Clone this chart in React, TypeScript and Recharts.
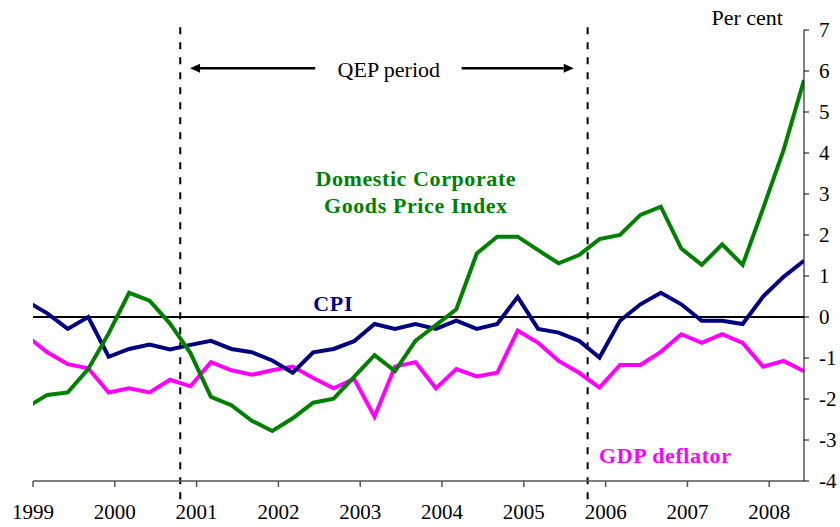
import { LineChart, Line, XAxis, YAxis, ReferenceLine, ReferenceDot } from 'recharts';

// quarterly observations (first one sits just left of the axis and is clipped)
const quarters = [
  '1998Q4',
  '1999Q1', '1999Q2', '1999Q3', '1999Q4',
  '2000Q1', '2000Q2', '2000Q3', '2000Q4',
  '2001Q1', '2001Q2', '2001Q3', '2001Q4',
  '2002Q1', '2002Q2', '2002Q3', '2002Q4',
  '2003Q1', '2003Q2', '2003Q3', '2003Q4',
  '2004Q1', '2004Q2', '2004Q3', '2004Q4',
  '2005Q1', '2005Q2', '2005Q3', '2005Q4',
  '2006Q1', '2006Q2', '2006Q3', '2006Q4',
  '2007Q1', '2007Q2', '2007Q3', '2007Q4',
  '2008Q1', '2008Q2',
];

const cpi = [
  0.38,
  0.09, -0.29, 0.0, -0.97,
  -0.78, -0.67, -0.79, -0.68,
  -0.58, -0.78, -0.86, -1.06,
  -1.36, -0.86, -0.78, -0.59,
  -0.17, -0.29, -0.17, -0.29,
  -0.09, -0.29, -0.17, 0.49,
  -0.29, -0.38, -0.58, -0.99,
  -0.09, 0.31, 0.59, 0.31,
  -0.09, -0.09, -0.17, 0.5,
  0.98, 1.37,
];

const gdpDeflator = [
  -0.47,
  -0.86, -1.15, -1.25, -1.84,
  -1.74, -1.84, -1.53, -1.69,
  -1.1, -1.3, -1.41, -1.3,
  -1.21, -1.49, -1.74, -1.51,
  -2.43, -1.21, -1.1, -1.74,
  -1.27, -1.45, -1.36, -0.33,
  -0.63, -1.07, -1.36, -1.72,
  -1.17, -1.17, -0.85, -0.42,
  -0.63, -0.42, -0.63, -1.21,
  -1.07, -1.32,
];

const cgpi = [
  -2.2,
  -1.9, -1.84, -1.27, -0.4,
  0.59, 0.4, -0.16, -0.88,
  -1.95, -2.15, -2.53, -2.78,
  -2.47, -2.09, -1.99, -1.46,
  -0.93, -1.32, -0.58, -0.2,
  0.19, 1.55, 1.96, 1.96,
  1.63, 1.31, 1.51, 1.9,
  2.0, 2.49, 2.69, 1.67,
  1.27, 1.77, 1.27, 2.65,
  4.07, 5.78,
];

const yearTicks = [1999, 2000, 2001, 2002, 2003, 2004, 2005, 2006, 2007, 2008];
const valueTicks = [-4, -3, -2, -1, 0, 1, 2, 3, 4, 5, 6, 7];

// QEP period boundaries
const qepStart = 2000.8;
const qepEnd = 2005.78;

const toTime = (q: string) => Number(q.slice(0, 4)) + (Number(q.slice(5)) - 1) * 0.25 + 0.175;

const data = quarters.map((q, i) => ({
  t: toTime(q),
  cpi: cpi[i],
  gdp: gdpDeflator[i],
  cgpi: cgpi[i],
}));

const FONT = '"Liberation Serif", "Times New Roman", serif';
const GREEN = '#008000';
const NAVY = '#000080';
const MAGENTA = '#ff00ff';

const Arrow = (props: any) => {
  const { x1, y1, x2, y2 } = props;
  const dir = x2 > x1 ? 1 : -1;
  const head = 10;
  return (
    <g>
      <line x1={x1} y1={y1} x2={x2 - dir * head} y2={y2} stroke="#000" strokeWidth={2.5} />
      <polygon
        points={`${x2},${y2} ${x2 - dir * head},${y2 - 4.5} ${x2 - dir * head},${y2 + 4.5}`}
        fill="#000"
      />
    </g>
  );
};

const label = (lines: string[], color: string, bold: boolean, anchor: string, gap = 27) =>
  (props: any) => (
    <text
      x={props.cx}
      y={props.cy}
      fill={color}
      fontFamily={FONT}
      fontSize={22}
      fontWeight={bold ? 'bold' : 'normal'}
      letterSpacing={bold ? 0.6 : 0}
      textAnchor={anchor}
    >
      {lines.map((l, i) => (
        <tspan key={i} x={props.cx} dy={i === 0 ? 0 : gap}>
          {l}
        </tspan>
      ))}
    </text>
  );

export default function App() {
  return (
    <div style={{ position: 'absolute', left: 0, top: 0, background: '#fff' }}>
      <LineChart width={840} height={527} data={data} margin={{ top: 30, right: 0, left: 33, bottom: 0 }}>
        <XAxis
          dataKey="t"
          type="number"
          domain={[1999, 2008.425]}
          allowDataOverflow
          ticks={yearTicks}
          tickFormatter={(v: number) => String(Math.round(v))}
          tickSize={6}
          tickMargin={17}
          height={46}
          stroke="#555"
          strokeWidth={1.5}
          tick={{ fontSize: 21, fontFamily: FONT, fill: '#000' }}
        />
        <YAxis
          orientation="right"
          domain={[-4, 7]}
          ticks={valueTicks}
          width={36}
          tickSize={5}
          tickMargin={10}
          stroke="#000"
          tick={{ fontSize: 21, fontFamily: FONT, fill: '#000' }}
        />
        <ReferenceLine y={0} stroke="#000" strokeWidth={2} />
        <ReferenceLine
          segment={[{ x: qepStart, y: 7.07 }, { x: qepStart, y: -4.54 }]}
          stroke="#000"
          strokeWidth={2}
          strokeDasharray="7 8"
          ifOverflow="visible"
        />
        <ReferenceLine
          segment={[{ x: qepEnd, y: 7.07 }, { x: qepEnd, y: -4.54 }]}
          stroke="#000"
          strokeWidth={2}
          strokeDasharray="7 8"
          ifOverflow="visible"
        />
        <ReferenceLine segment={[{ x: 2002.45, y: 6.07 }, { x: 2000.92, y: 6.07 }]} shape={Arrow} ifOverflow="visible" />
        <ReferenceLine segment={[{ x: 2004.24, y: 6.07 }, { x: 2005.61, y: 6.07 }]} shape={Arrow} ifOverflow="visible" />
        <Line dataKey="gdp" stroke={MAGENTA} strokeWidth={4} dot={false} isAnimationActive={false} />
        <Line dataKey="cpi" stroke={NAVY} strokeWidth={4} dot={false} isAnimationActive={false} />
        <Line dataKey="cgpi" stroke={GREEN} strokeWidth={4} dot={false} isAnimationActive={false} />
        <ReferenceDot x={2003.35} y={5.85} r={0} ifOverflow="visible" shape={label(['QEP period'], '#000', false, 'middle')} />
        <ReferenceDot x={2007.73} y={7.12} r={0} ifOverflow="visible" shape={label(['Per cent'], '#000', false, 'middle')} />
        <ReferenceDot
          x={2003.68}
          y={3.2}
          r={0}
          ifOverflow="visible"
          shape={label(['Domestic Corporate', 'Goods Price Index'], GREEN, true, 'middle')}
        />
        <ReferenceDot x={2002.67} y={0.15} r={0} ifOverflow="visible" shape={label(['CPI'], NAVY, true, 'middle')} />
        <ReferenceDot x={2006.73} y={-3.56} r={0} ifOverflow="visible" shape={label(['GDP deflator'], MAGENTA, true, 'middle')} />
      </LineChart>
    </div>
  );
}
